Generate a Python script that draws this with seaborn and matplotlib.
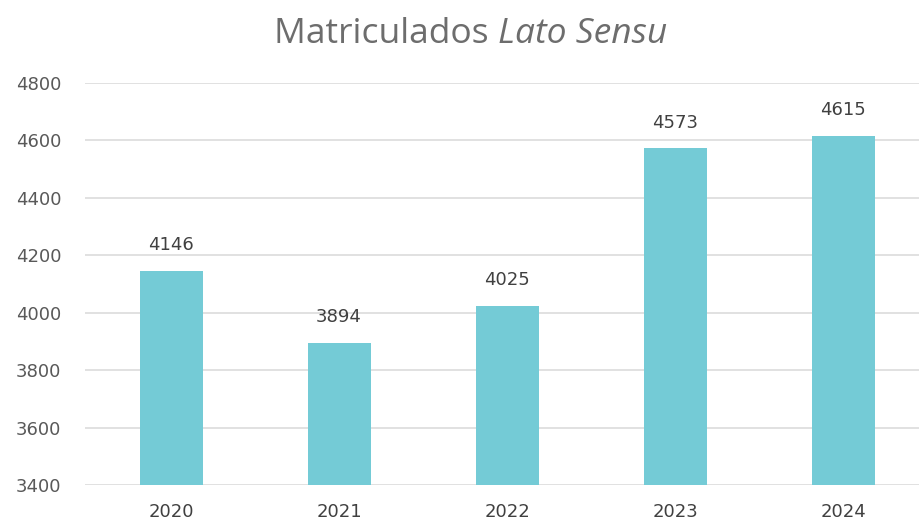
import matplotlib
matplotlib.use("Agg")
import matplotlib.pyplot as plt
import seaborn as sns
import pandas as pd

years = ["2020", "2021", "2022", "2023", "2024"]
matriculados = [4146, 3894, 4025, 4573, 4615]
yticks = [3400, 3600, 3800, 4000, 4200, 4400, 4600, 4800]

sns.set_theme(style="white")
plt.rcParams['font.family'] = ['DejaVu Sans']

df = pd.DataFrame({"ano": years, "valor": matriculados})

fig = plt.figure(figsize=(9.19, 5.22), dpi=100)
ax = fig.add_axes([85/919, 37/522, (919-85)/919, (485-83)/522])

sns.barplot(data=df, x="ano", y="valor", color="#74CBD6", saturation=1,
            width=0.375, ax=ax, zorder=3, linewidth=0, edgecolor="none")

ax.set_ylim(3400, 4800)
ax.set_xlim(-0.512, 4.452)
ax.set_yticks(yticks)
ax.set_yticklabels([str(t) for t in yticks])
ax.grid(axis="y", color="#dedede", linewidth=1.3, zorder=0)
ax.grid(axis="x", visible=False)
for s in ax.spines.values():
    s.set_visible(False)
ax.set_xlabel("")
ax.set_ylabel("")
ax.tick_params(axis="y", labelsize=13, length=0, pad=17)
ax.tick_params(axis="x", labelsize=13, length=0, pad=13)
for lbl in ax.get_yticklabels():
    lbl.set_color("#595959")
for lbl in ax.get_xticklabels():
    lbl.set_color("#404040")

for i, v in enumerate(matriculados):
    ax.annotate(str(v), xy=(i, v), xytext=(0, 12), textcoords="offset points",
                ha="center", va="bottom", fontsize=13, color="#404040")

fig.text(498/919, 1 - 34/522, "Matriculados ", ha="right", va="center",
         fontsize=25.5, color="#6d6d6d", family=["Open Sans", "DejaVu Sans"])
fig.text(498/919, 1 - 34/522, "Lato Sensu", ha="left", va="center",
         fontsize=25.5, color="#6d6d6d", style="italic", family=["Open Sans", "DejaVu Sans"])

fig.savefig("out.png", dpi=100)
